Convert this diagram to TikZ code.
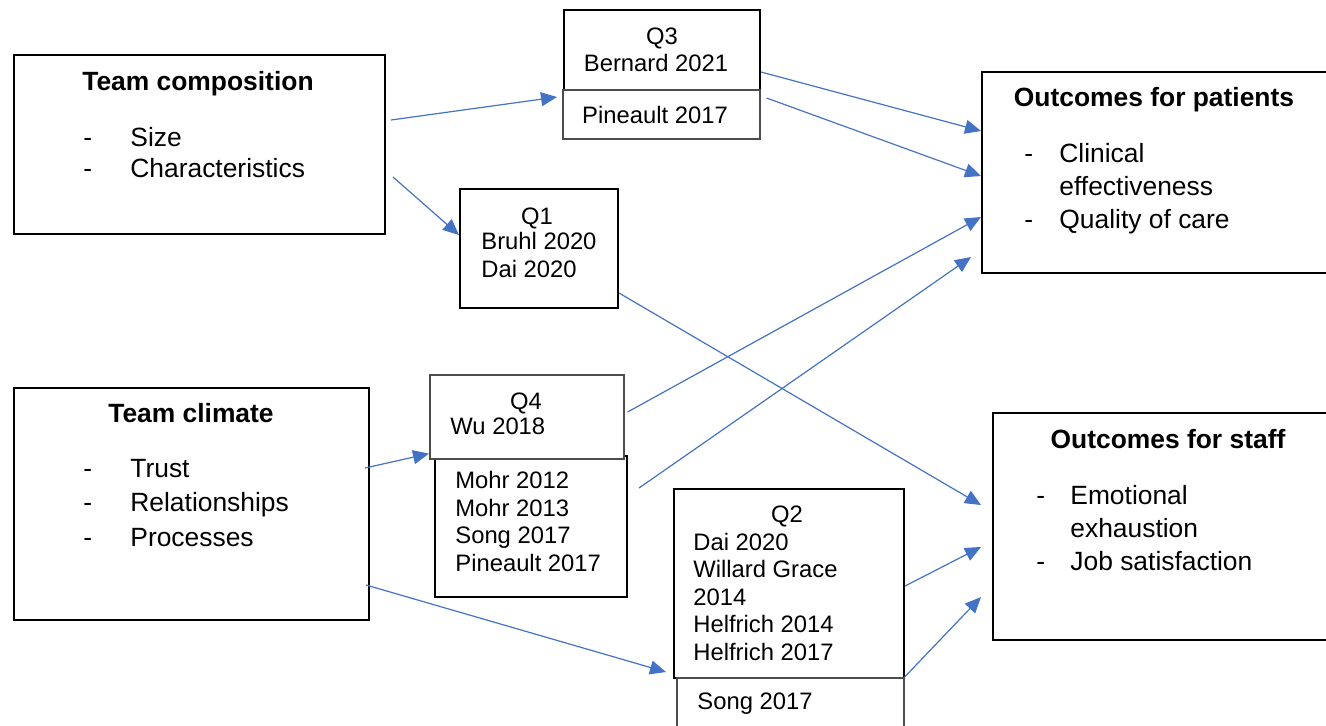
\documentclass[tikz,border=0pt]{standalone}
\usepackage{fontspec}
\setmainfont{Liberation Sans}
\usepackage{tikz}
\usetikzlibrary{positioning, arrows.meta}
\definecolor{linkblue}{HTML}{4472C4}
\newcommand{\dashitem}[2][23.5pt]{\makebox[#1][l]{-}#2}

\begin{document}
\begin{tikzpicture}[
    x=0.5pt, y=-0.5pt,
    box/.style={rectangle, draw=black, line width=1pt, fill=white,
                inner sep=0pt, anchor=north west},
    subbox/.style={box, draw=black!70, line width=0.8pt},
    head/.style={font=\fontsize{13.2}{16.5}\selectfont\bfseries, anchor=base, inner sep=0pt},
    list/.style={font=\fontsize{13.2}{16.5}\selectfont, align=left, anchor=base west, inner sep=0pt},
    qlabel/.style={font=\fontsize{11.9}{13.75}\selectfont, anchor=base, inner sep=0pt},
    ref/.style={font=\fontsize{11.9}{13.75}\selectfont, align=left, anchor=base west, inner sep=0pt},
    arrow/.style={-{Triangle[length=8pt, width=7pt]}, linkblue, line width=0.6pt}
]
    \useasboundingbox (0,0) rectangle (1326,725);
    \clip (0,0) rectangle (1326,725);

    % === Left: team factors ===
    % (lists are anchored at the baseline of their last line)
    \node[box, minimum width=185.5pt, minimum height=89.5pt] (comp) at (13,54) {};
    \node[head] (comphead) at (198,90) {Team composition};
    \node[list, font=\fontsize{13.2}{15.5}\selectfont] (complist) at (83,177)
        {\dashitem{Size}\\ \dashitem{Characteristics}};

    \node[box, minimum width=177.5pt, minimum height=116pt] (clim) at (13,387) {};
    \node[head] (climhead) at (191,422) {Team climate};
    \node[list, font=\fontsize{13.2}{17.2}\selectfont] (climlist) at (83,546)
        {\dashitem{Trust}\\ \dashitem{Relationships}\\ \dashitem{Processes}};

    % === Middle: study boxes ===
    \node[box, minimum width=98pt, minimum height=40pt] (q3a) at (563,9) {};
    \node[subbox, minimum width=98.5pt, minimum height=24.5pt] (q3b) at (562,89) {};
    \node[qlabel] (q3t) at (662,44) {Q3};
    \node[qlabel] (q3r) at (656,71) {Bernard 2021};
    \node[qlabel] (q3s) at (655,123) {Pineault 2017};

    \node[box, minimum width=79pt, minimum height=59.5pt] (q1) at (459,188) {};
    \node[qlabel] (q1t) at (537,224) {Q1};
    \node[ref] (q1r) at (481,277) {Bruhl 2020\\Dai 2020};

    \node[box, minimum width=96pt, minimum height=70.5pt] (q4b) at (434,455) {};
    \node[subbox, minimum width=97pt, minimum height=42pt] (q4a) at (429,374) {};
    \node[qlabel] (q4t) at (526,409) {Q4};
    \node[ref] (q4r) at (450,434) {Wu 2018};
    \node[ref] (q4s) at (455,571) {Mohr 2012\\Mohr 2013\\Song 2017\\Pineault 2017};

    \node[box, minimum width=115pt, minimum height=94.5pt] (q2a) at (673,488) {};
    \node[subbox, minimum width=113.5pt, minimum height=34pt] (q2b) at (676,677) {};
    \node[qlabel] (q2t) at (787,522) {Q2};
    \node[ref] (q2r) at (693,660)
        {Dai 2020\\Willard Grace\\2014\\Helfrich 2014\\Helfrich 2017};
    \node[ref] (q2s) at (697,709) {Song 2017};

    % === Right: outcomes ===
    \node[box, minimum width=179.5pt, minimum height=100.5pt] (pat) at (981,71) {};
    \node[head] (pathead) at (1154,106) {Outcomes for patients};
    \node[list] (patlist) at (1024,228)
        {\dashitem[17.5pt]{Clinical}\\ \hspace*{17.5pt}effectiveness\\ \dashitem[17.5pt]{Quality of care}};

    \node[box, minimum width=174pt, minimum height=113.5pt] (staff) at (992,412) {};
    \node[head] (staffhead) at (1168,448) {Outcomes for staff};
    \node[list] (stafflist) at (1036,570)
        {\dashitem[17pt]{Emotional}\\ \hspace*{17pt}exhaustion\\ \dashitem[17pt]{Job satisfaction}};

    % === Links ===
    \draw[arrow] ([shift={(5,66)}]comp.north east) -- ([shift={(-5,8)}]q3b.north west);
    \draw[arrow] ([shift={(7,123)}]comp.north east) -- ([shift={(0,47)}]q1.north west);
    \draw[arrow] ([shift={(-5,81)}]clim.north east) -- ([shift={(0,-6)}]q4a.south west);
    \draw[arrow] ([shift={(-4,198)}]clim.north east) -- ([shift={(-10,-5)}]q2b.north west);

    \draw[arrow] ([shift={(0,63)}]q3a.north east) -- ([shift={(0,60)}]pat.north west);
    \draw[arrow] ([shift={(6,9)}]q3b.north east) -- ([shift={(0,105)}]pat.north west);
    \draw[arrow] ([shift={(3,38)}]q4a.north east) -- ([shift={(0,146)}]pat.north west);
    \draw[arrow] ([shift={(11,33)}]q4b.north east) -- ([shift={(-10,186)}]pat.north west);

    \draw[arrow] ([shift={(0,105)}]q1.north east) -- ([shift={(-11,93)}]staff.north west);
    \draw[arrow] ([shift={(0,98)}]q2a.north east) -- ([shift={(-11,135)}]staff.north west);
    \draw[arrow] (q2b.north east) -- ([shift={(-11,185)}]staff.north west);

\end{tikzpicture}
\end{document}
